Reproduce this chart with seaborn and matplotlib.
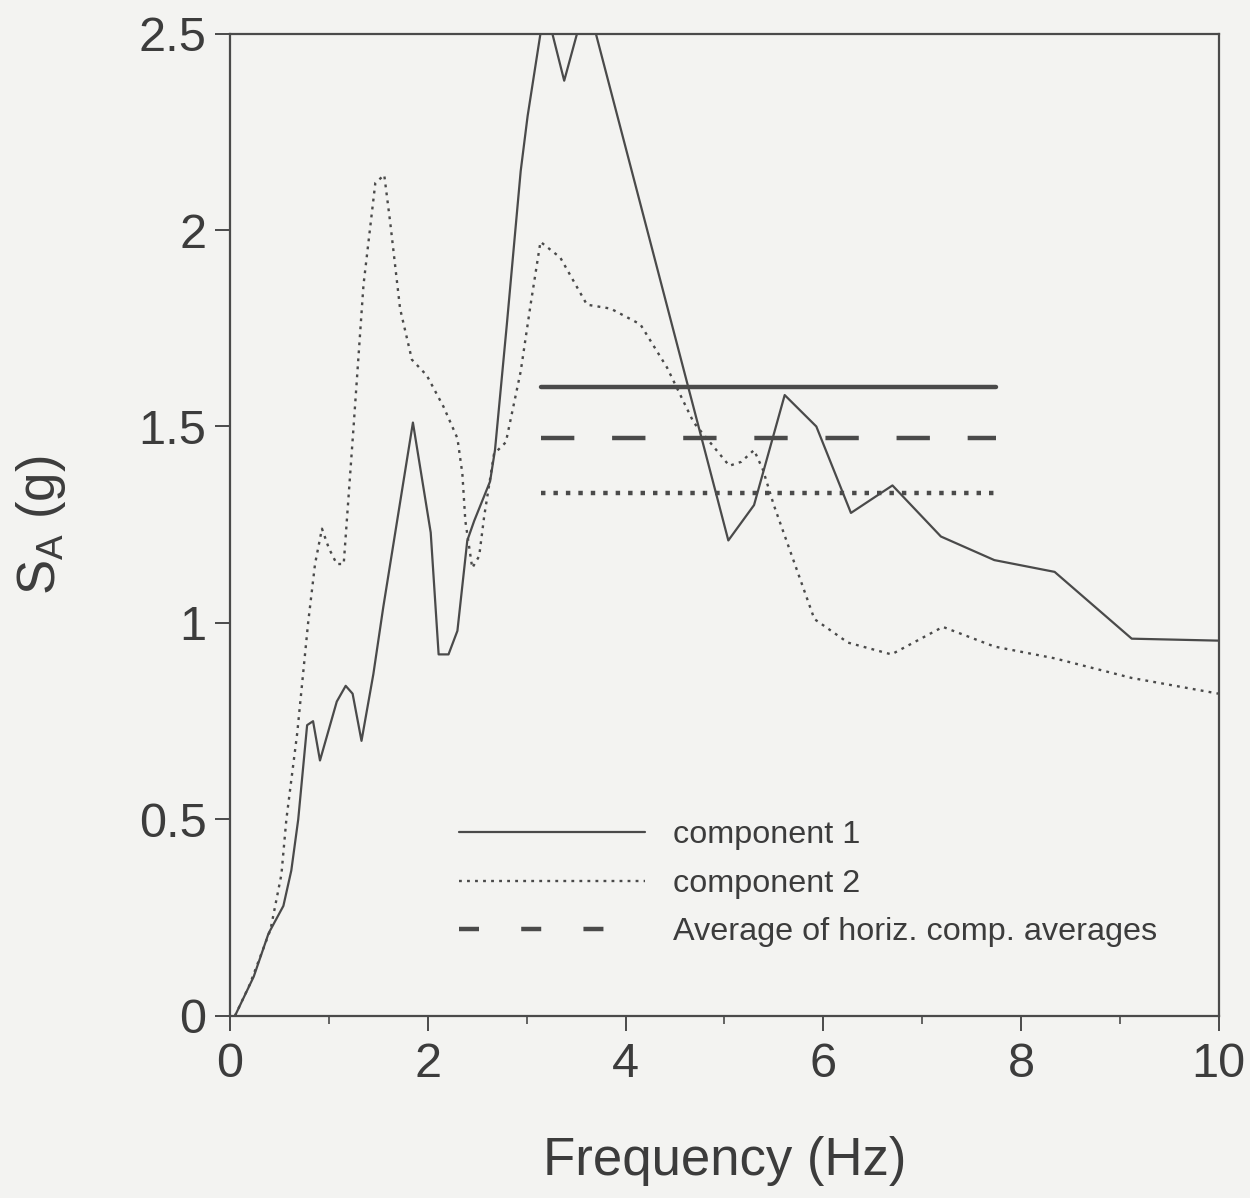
import matplotlib
matplotlib.use("Agg")
import matplotlib.pyplot as plt
from matplotlib.lines import Line2D
from matplotlib.ticker import MultipleLocator
import seaborn as sns

# Spectral acceleration, component 1 (Hz, g)
comp1_freq = [0.05, 0.24, 0.39, 0.54, 0.62, 0.69, 0.78, 0.84, 0.91, 1.08, 1.17, 1.24,
              1.33, 1.45, 1.55, 1.85, 2.03, 2.11, 2.21, 2.30, 2.40, 2.47, 2.63, 2.68,
              2.80, 2.94, 3.01, 3.14, 3.26, 3.38, 3.51, 3.70, 5.04, 5.30, 5.61, 5.93,
              6.28, 6.70, 7.19, 7.73, 8.34, 9.12, 10.0]
comp1_sa = [0.0, 0.10, 0.21, 0.28, 0.37, 0.50, 0.74, 0.75, 0.65, 0.80, 0.84, 0.82,
            0.70, 0.87, 1.04, 1.51, 1.23, 0.92, 0.92, 0.98, 1.21, 1.26, 1.36, 1.44,
            1.76, 2.15, 2.29, 2.50, 2.50, 2.38, 2.50, 2.50, 1.21, 1.30, 1.58, 1.50,
            1.28, 1.35, 1.22, 1.16, 1.13, 0.96, 0.955]

# Spectral acceleration, component 2 (Hz, g)
comp2_freq = [0.05, 0.20, 0.41, 0.52, 0.57, 0.68, 0.79, 0.86, 0.93, 1.00, 1.08, 1.15,
              1.25, 1.35, 1.47, 1.56, 1.62, 1.72, 1.84, 1.99, 2.16, 2.30, 2.35, 2.38,
              2.45, 2.52, 2.57, 2.67, 2.79, 2.94, 3.04, 3.14, 3.34, 3.61, 3.85, 4.15,
              4.42, 4.69, 5.05, 5.17, 5.30, 5.39, 5.50, 5.91, 6.25, 6.69, 7.21, 7.73,
              8.34, 9.12, 10.0]
comp2_sa = [0.0, 0.08, 0.22, 0.36, 0.50, 0.72, 1.00, 1.15, 1.24, 1.19, 1.15, 1.15,
            1.50, 1.86, 2.12, 2.14, 2.02, 1.80, 1.67, 1.63, 1.55, 1.47, 1.38, 1.26,
            1.14, 1.17, 1.27, 1.43, 1.46, 1.64, 1.81, 1.97, 1.93, 1.81, 1.80, 1.76,
            1.65, 1.51, 1.40, 1.41, 1.44, 1.39, 1.30, 1.01, 0.95, 0.92, 0.99, 0.94,
            0.91, 0.86, 0.82]

# Band averages: component 1, mean of both, component 2
avg_freq_span = [3.15, 7.75]
avg_comp1 = 1.60
avg_mean = 1.47
avg_comp2 = 1.33

legend_labels = ["component 1", "component 2", "Average of horiz. comp. averages"]

sns.set_style("ticks")
plt.rcParams["font.family"] = ["Liberation Sans", "DejaVu Sans"]
plt.rcParams["mathtext.fontset"] = "custom"
plt.rcParams["mathtext.rm"] = "Liberation Sans"

ink = "#4a4a4a"
bg = "#f3f3f1"

fig = plt.figure(figsize=(12.5, 11.98), dpi=100, facecolor=bg)
ax = fig.add_axes([0.184, 0.152, 0.791, 0.820])
ax.set_facecolor(bg)

sns.lineplot(x=comp1_freq, y=comp1_sa, ax=ax, color=ink, linewidth=1.6,
             linestyle="-", sort=False, estimator=None)
sns.lineplot(x=comp2_freq, y=comp2_sa, ax=ax, color=ink, linewidth=1.7,
             linestyle=(0, (1.2, 2.2)), sort=False, estimator=None)

for level, style in [(avg_comp1, "-"), (avg_mean, (0, (7.5, 8.5))), (avg_comp2, (0, (1.0, 1.8)))]:
    sns.lineplot(x=avg_freq_span, y=[level, level], ax=ax, color=ink, linewidth=3.2,
                 linestyle=style, sort=False, estimator=None)

ax.set_xlim(0, 10)
ax.set_ylim(0, 2.5)
ax.xaxis.set_major_locator(MultipleLocator(2))
ax.xaxis.set_minor_locator(MultipleLocator(1))
ax.set_yticks([0, 0.5, 1, 1.5, 2, 2.5])
ax.set_yticklabels(["0", "0.5", "1", "1.5", "2", "2.5"])

for side in ["top", "right", "bottom", "left"]:
    ax.spines[side].set_visible(True)
    ax.spines[side].set_color(ink)
    ax.spines[side].set_linewidth(1.6)

ax.tick_params(axis="both", which="major", direction="out", length=11, width=1.4,
               colors=ink, labelsize=35, labelcolor="#3c3c3c")
ax.tick_params(axis="x", which="major", pad=8)
ax.tick_params(axis="y", which="major", pad=6)
ax.tick_params(axis="x", which="minor", direction="out", length=6, width=1.2, colors=ink)

ax.set_xlabel("Frequency (Hz)", fontsize=38, color="#3c3c3c", labelpad=35)
ax.set_ylabel(r"S$_\mathregular{A}$ (g)", fontsize=38, color="#3c3c3c", labelpad=51)

handles = [
    Line2D([], [], color=ink, linewidth=1.6, linestyle="-"),
    Line2D([], [], color=ink, linewidth=1.7, linestyle=(0, (1.2, 2.2))),
    Line2D([], [], color=ink, linewidth=3.2, linestyle=(0, (4.5, 9.5))),
]
ax.legend(handles, legend_labels, loc="upper left", bbox_to_anchor=(0.232, 0.199),
          frameon=False, fontsize=23.3, handlelength=5.75, handletextpad=0.85,
          labelspacing=0.57, borderpad=0, borderaxespad=0, labelcolor="#3c3c3c")

fig.savefig("out.png", dpi=100, facecolor=bg)
